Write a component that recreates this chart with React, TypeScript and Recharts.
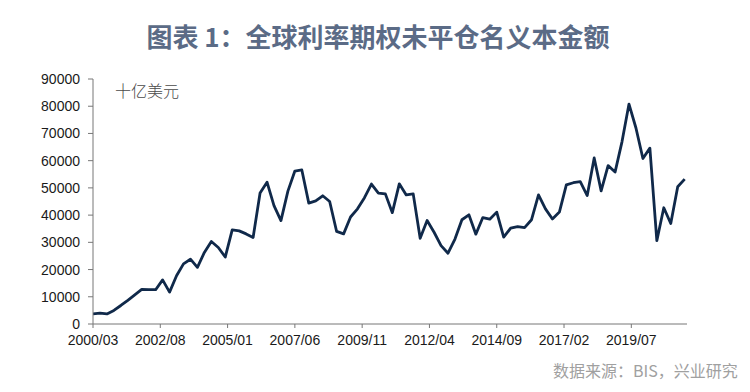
import React from "react";
import { LineChart, Line, XAxis, YAxis } from "recharts";

const dates = [
  "2000/03", "2000/06", "2000/09", "2000/12",
  "2001/03", "2001/06", "2001/09", "2001/12",
  "2002/03", "2002/06", "2002/09", "2002/12",
  "2003/03", "2003/06", "2003/09", "2003/12",
  "2004/03", "2004/06", "2004/09", "2004/12",
  "2005/03", "2005/06", "2005/09", "2005/12",
  "2006/03", "2006/06", "2006/09", "2006/12",
  "2007/03", "2007/06", "2007/09", "2007/12",
  "2008/03", "2008/06", "2008/09", "2008/12",
  "2009/03", "2009/06", "2009/09", "2009/12",
  "2010/03", "2010/06", "2010/09", "2010/12",
  "2011/03", "2011/06", "2011/09", "2011/12",
  "2012/03", "2012/06", "2012/09", "2012/12",
  "2013/03", "2013/06", "2013/09", "2013/12",
  "2014/03", "2014/06", "2014/09", "2014/12",
  "2015/03", "2015/06", "2015/09", "2015/12",
  "2016/03", "2016/06", "2016/09", "2016/12",
  "2017/03", "2017/06", "2017/09", "2017/12",
  "2018/03", "2018/06", "2018/09", "2018/12",
  "2019/03", "2019/06", "2019/09", "2019/12",
  "2020/03", "2020/06", "2020/09", "2020/12",
  "2021/03", "2021/06",
];

const notional = [
  3700, 4000, 3700, 5000,
  6800, 8700, 10700, 12700,
  12600, 12600, 16200, 11700,
  17700, 22100, 23800, 20800,
  26300, 30300, 28100, 24600,
  34600, 34200, 33100, 31800,
  48100, 52100, 43500, 38000,
  48800, 56200, 56600, 44400,
  45200, 47100, 45000, 34000,
  33100, 39300, 42300, 46400,
  51400, 48100, 47800, 40900,
  51500, 47400, 47800, 31500,
  38000, 33700, 28800, 26000,
  31200, 38300, 40100, 33000,
  39100, 38500, 41100, 31900,
  35200, 35800, 35400, 38300,
  47400, 42300, 38600, 41100,
  51100, 51900, 52300, 47200,
  61000, 48900, 58200, 55800,
  67000, 80800, 72000, 60800,
  64600, 30600, 42700, 36900,
  50400, 53200,
];

const xTickLabels = [
  "2000/03", "2002/08", "2005/01", "2007/06", "2009/11",
  "2012/04", "2014/09", "2017/02", "2019/07",
];

const yTicks = [0, 10000, 20000, 30000, 40000, 50000, 60000, 70000, 80000, 90000];

const title = "图表 1：全球利率期权未平仓名义本金额";
const unitLabel = "十亿美元";
const sourceLabel = "数据来源：BIS，兴业研究";

// months elapsed since 2000/03
const monthIndex = (s: string) => {
  const [y, m] = s.split("/").map(Number);
  return (y - 2000) * 12 + (m - 3);
};

const data = dates.map((d, i) => ({ m: monthIndex(d), v: notional[i] }));
const xTicks = xTickLabels.map(monthIndex);
const labelByMonth: Record<number, string> = {};
xTickLabels.forEach((l) => (labelByMonth[monthIndex(l)] = l));

const tickFont = {
  fontFamily: "'Liberation Sans', Arial, sans-serif",
  fontSize: 14,
  fill: "#1a1a1a",
};

export default function App() {
  return (
    <div
      style={{
        position: "absolute",
        left: 0,
        top: 0,
        width: 750,
        height: 392,
        background: "#fff",
        overflow: "hidden",
      }}
    >
      <div
        style={{
          position: "absolute",
          left: 0,
          top: 21,
          width: 756,
          textAlign: "center",
          fontFamily: "'Noto Sans CJK SC', sans-serif",
          fontWeight: 700,
          fontSize: 26,
          lineHeight: "30px",
          color: "#5b6b86",
          whiteSpace: "nowrap",
        }}
      >
        {title}
      </div>
      <div
        style={{
          position: "absolute",
          left: 115,
          top: 80,
          fontFamily: "'Noto Sans CJK SC', sans-serif",
          fontWeight: 300,
          fontSize: 16,
          lineHeight: "20px",
          color: "#4a4a4a",
          whiteSpace: "nowrap",
        }}
      >
        {unitLabel}
      </div>
      <div
        style={{
          position: "absolute",
          left: 553,
          top: 359,
          fontFamily: "'Noto Sans CJK SC', sans-serif",
          fontSize: 16,
          lineHeight: "22px",
          color: "#a0a0a0",
          whiteSpace: "nowrap",
        }}
      >
        {sourceLabel}
      </div>
      <div style={{ position: "absolute", left: 0, top: 0 }}>
        <LineChart
          width={750}
          height={392}
          data={data}
          margin={{ top: 79, right: 63, bottom: 38, left: 33 }}
        >
          <XAxis
            dataKey="m"
            type="number"
            domain={[0, 256]}
            ticks={xTicks}
            tickFormatter={(v: number) => labelByMonth[v] ?? ""}
            interval={0}
            height={30}
            axisLine={{ stroke: "#777", strokeWidth: 1 }}
            tickLine={{ stroke: "#777", strokeWidth: 1 }}
            tickSize={4}
            tickMargin={7}
            tick={tickFont}
            allowDataOverflow
          />
          <YAxis
            type="number"
            domain={[0, 90000]}
            ticks={yTicks}
            interval={0}
            width={60}
            axisLine={{ stroke: "#777", strokeWidth: 1 }}
            tickLine={{ stroke: "#777", strokeWidth: 1 }}
            tickSize={5}
            tickMargin={8}
            tick={tickFont}
          />
          <Line
            type="linear"
            dataKey="v"
            stroke="#10294a"
            strokeWidth={2.8}
            strokeLinejoin="round"
            dot={false}
            activeDot={false}
            isAnimationActive={false}
          />
        </LineChart>
      </div>
    </div>
  );
}
